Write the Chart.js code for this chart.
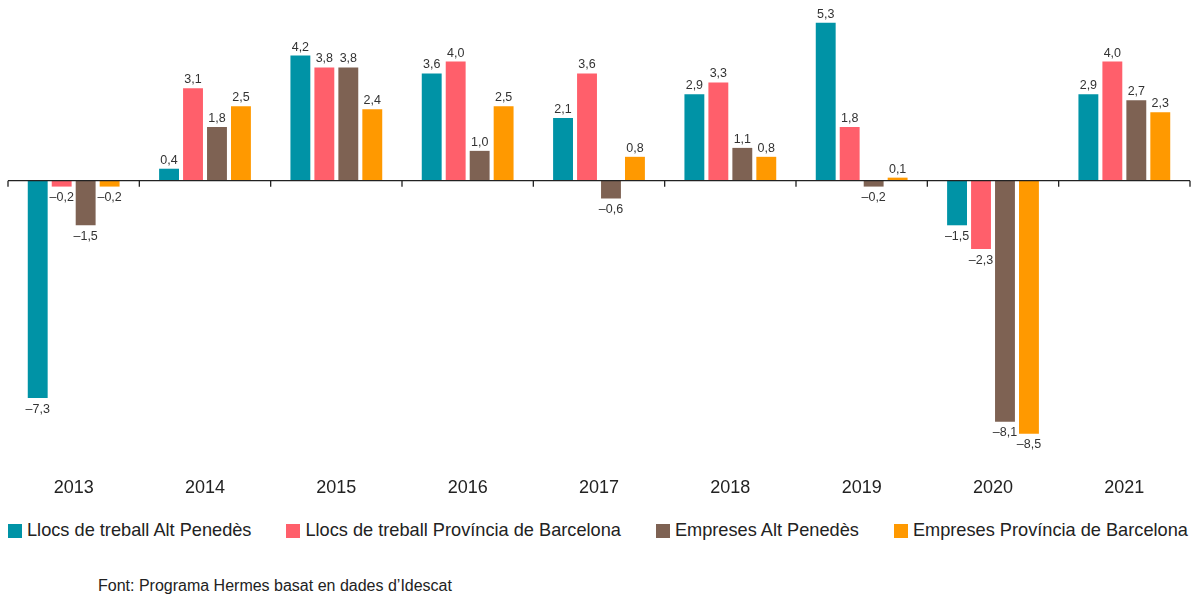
<!DOCTYPE html>
<html lang="ca">
<head>
<meta charset="utf-8">
<title>Llocs de treball i empreses</title>
<script src="https://cdn.jsdelivr.net/npm/chart.js@4.4.1/dist/chart.umd.min.js"></script>
<style>
    body {
        margin: 0;
        background: #fff;
        font-family: "Liberation Sans", Arial, sans-serif;
        color: #222;
    }
    #grafic {
        position: relative;
        width: 1199px;
        height: 500px;
    }
    #llegenda {
        display: flex;
        gap: 35px;
        margin-left: 8px;
        margin-top: 20px;
        font-size: 18.2px;
        line-height: 21px;
        white-space: nowrap;
    }
    .item {
        display: flex;
        align-items: center;
    }
    .quadrat {
        width: 14px;
        height: 14px;
        margin-right: 5px;
    }
    #font {
        margin-left: 98px;
        margin-top: 35px;
        font-size: 16px;
        line-height: 19px;
    }
</style>
</head>
<body>
<div id="grafic"><canvas id="canvasGrafic"></canvas></div>
<div id="llegenda"></div>
<div id="font">Font: Programa Hermes basat en dades d’Idescat</div>

<script>
// dades llegides del gràfic
const anys = ["2013", "2014", "2015", "2016", "2017", "2018", "2019", "2020", "2021"]

const llocsAltPenedes = [-7.3, 0.4, 4.2, 3.6, 2.1, 2.9, 5.3, -1.5, 2.9]
const llocsBarcelona = [-0.2, 3.1, 3.8, 4.0, 3.6, 3.3, 1.8, -2.3, 4.0]
const empresesAltPenedes = [-1.5, 1.8, 3.8, 1.0, -0.6, 1.1, -0.2, -8.1, 2.7]
const empresesBarcelona = [-0.2, 2.5, 2.4, 2.5, 0.8, 0.8, 0.1, -8.5, 2.3]

const nomsSeries = [
    "Llocs de treball Alt Penedès",
    "Llocs de treball Província de Barcelona",
    "Empreses Alt Penedès",
    "Empreses Província de Barcelona"
]
const colors = ["#0093a6", "#ff5f6b", "#7e6253", "#ff9900"]

function formatarValor(v) {
    // coma decimal i guió llarg pels negatius
    let text = Math.abs(v).toFixed(1).replace(".", ",")
    return v < 0 ? "\u2013" + text : text
}

// etiquetes a sobre / a sota de cada barra
const pluginEtiquetes = {
    id: "etiquetes",
    afterDatasetsDraw(chart) {
        const ctx = chart.ctx
        ctx.save()
        ctx.font = "12.5px 'Liberation Sans', Arial, sans-serif"
        ctx.fillStyle = "#333"
        ctx.textAlign = "center"
        chart.data.datasets.forEach((ds, i) => {
            const meta = chart.getDatasetMeta(i)
            meta.data.forEach((barra, j) => {
                const v = ds.data[j]
                if (v >= 0) {
                    ctx.textBaseline = "alphabetic"
                    ctx.fillText(formatarValor(v), barra.x, barra.y - 5)
                } else {
                    ctx.textBaseline = "top"
                    ctx.fillText(formatarValor(v), barra.x, barra.y + 5)
                }
            })
        })
        ctx.restore()
    }
}

// línia del zero i marques entre anys
const pluginEix = {
    id: "eixZero",
    afterDatasetsDraw(chart) {
        const ctx = chart.ctx
        const area = chart.chartArea
        const escalaX = chart.scales.x
        const y0 = chart.scales.y.getPixelForValue(0)
        ctx.save()
        ctx.strokeStyle = "#222"
        ctx.lineWidth = 1.3
        ctx.beginPath()
        ctx.moveTo(area.left, y0)
        ctx.lineTo(area.right, y0)
        const meitat = (escalaX.getPixelForValue(1) - escalaX.getPixelForValue(0)) / 2
        for (let i = 0; i <= anys.length; i++) {
            const x = escalaX.getPixelForValue(i) - meitat
            ctx.moveTo(x, y0)
            ctx.lineTo(x, y0 + 6)
        }
        ctx.stroke()
        ctx.restore()
    }
}

const series = [llocsAltPenedes, llocsBarcelona, empresesAltPenedes, empresesBarcelona]

const config = {
    type: "bar",
    data: {
        labels: anys,
        datasets: series.map((valors, i) => ({
            label: nomsSeries[i],
            data: valors,
            backgroundColor: colors[i],
            borderWidth: 0,
            categoryPercentage: 0.73,
            barPercentage: 0.83
        }))
    },
    options: {
        responsive: true,
        maintainAspectRatio: false,
        animation: false,
        events: [],
        layout: {
            padding: { top: 2, left: 8, right: 9, bottom: 0 }
        },
        plugins: {
            legend: { display: false },
            tooltip: { enabled: false }
        },
        scales: {
            x: {
                grid: { display: false, drawTicks: false },
                border: { display: false },
                ticks: {
                    padding: 18,
                    color: "#222",
                    font: { family: "'Liberation Sans', Arial, sans-serif", size: 18 }
                },
                // alçada fixa de l'eix per controlar on queda la zona del gràfic
                afterFit: (escala) => { escala.height = 41 }
            },
            y: {
                display: false,
                min: -9.35,
                max: 6
            }
        }
    },
    plugins: [pluginEtiquetes, pluginEix]
}

let grafic = new Chart(document.getElementById("canvasGrafic"), config)

// llegenda feta a mà
const llegenda = document.getElementById("llegenda")
nomsSeries.forEach((nom, i) => {
    const item = document.createElement("div")
    item.className = "item"
    item.innerHTML = '<span class="quadrat" style="background:' + colors[i] + '"></span>' + nom
    llegenda.appendChild(item)
})
</script>
</body>
</html>
